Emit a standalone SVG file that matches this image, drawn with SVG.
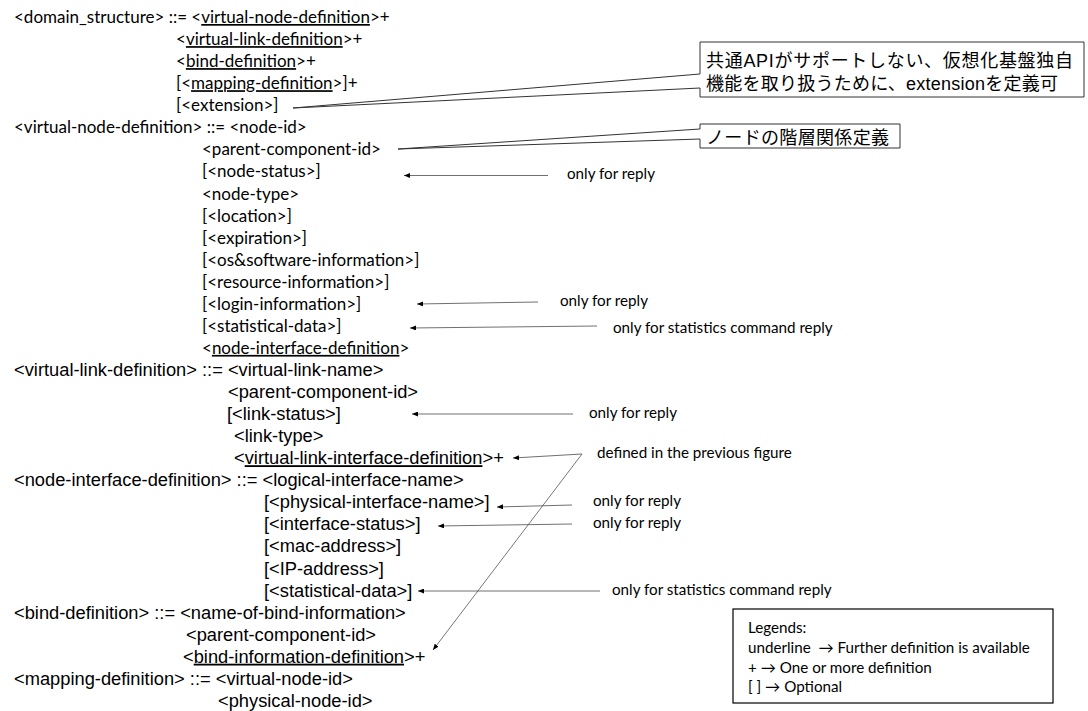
<svg xmlns="http://www.w3.org/2000/svg" width="1088" height="711" viewBox="0 0 1088 711">
  <style>
    .c { font-family: Lato, "Open Sans", sans-serif; font-size: 17px; fill: #000; }
    .a { font-family: "Liberation Sans", Arial, sans-serif; font-size: 18.3px; fill: #000; }
    .lbl { font-family: Lato, "Open Sans", sans-serif; font-size: 15.2px; fill: #000; }
    .jp { font-family: "Liberation Sans", "Noto Sans CJK JP", sans-serif; font-size: 18px; fill: #000; }
    .u { text-decoration: underline; }
    .arr { stroke: #707070; stroke-width: 1; fill: none; marker-end: url(#head); }
    .diag { stroke: #555; stroke-width: 0.8; fill: none; marker-end: url(#head); }
    .callout { fill: #fff; stroke: #333; stroke-width: 1; }
    .legend { fill: #fff; stroke: #000; stroke-width: 1.2; }
  </style>
  <defs>
    <marker id="head" viewBox="0 0 6 5" refX="6" refY="2.5" markerWidth="6" markerHeight="5" markerUnits="userSpaceOnUse" orient="auto">
      <path d="M0,0 L6,2.5 L0,5 Z" fill="#000"/>
    </marker>
  </defs>
  <rect width="1088" height="711" fill="#fff"/>

  <!-- domain structure -->
  <g id="domain-structure">
    <text class="c" x="14" y="23">&lt;domain_structure&gt; ::= &lt;<tspan class="u">virtual-node-definition</tspan>&gt;+</text>
    <text class="c" x="176" y="45.1">&lt;<tspan class="u">virtual-link-definition</tspan>&gt;+</text>
    <text class="c" x="176" y="67.1">&lt;<tspan class="u">bind-definition</tspan>&gt;+</text>
    <text class="c" x="176" y="89.2">[&lt;<tspan class="u">mapping-definition</tspan>&gt;]+</text>
    <text class="c" x="176" y="111.2">[&lt;extension&gt;]</text>
  </g>

  <!-- virtual node definition -->
  <g id="virtual-node-definition">
    <text class="c" x="14" y="133.3">&lt;virtual-node-definition&gt; ::= &lt;node-id&gt;</text>
    <text class="c" x="202" y="155.4">&lt;parent-component-id&gt;</text>
    <text class="c" x="202" y="177.4">[&lt;node-status&gt;]</text>
    <text class="c" x="202" y="199.5">&lt;node-type&gt;</text>
    <text class="c" x="202" y="221.5">[&lt;location&gt;]</text>
    <text class="c" x="202" y="243.6">[&lt;expiration&gt;]</text>
    <text class="c" x="202" y="265.7">[&lt;os&amp;software-information&gt;]</text>
    <text class="c" x="202" y="287.7">[&lt;resource-information&gt;]</text>
    <text class="c" x="202" y="309.8">[&lt;login-information&gt;]</text>
    <text class="c" x="202" y="331.8">[&lt;statistical-data&gt;]</text>
    <text class="c" x="202" y="353.9">&lt;<tspan class="u">node-interface-definition</tspan>&gt;</text>
  </g>

  <!-- virtual link definition -->
  <g id="virtual-link-definition">
    <text class="a" x="14" y="376">&lt;virtual-link-definition&gt; ::= &lt;virtual-link-name&gt;</text>
    <text class="a" x="228" y="398">&lt;parent-component-id&gt;</text>
    <text class="a" x="227" y="420.1">[&lt;link-status&gt;]</text>
    <text class="a" x="234" y="442.1">&lt;link-type&gt;</text>
    <text class="a" x="234" y="464.2">&lt;<tspan class="u">virtual-link-interface-definition</tspan>&gt;+</text>
  </g>

  <!-- node interface definition -->
  <g id="node-interface-definition">
    <text class="a" x="14" y="486.3">&lt;node-interface-definition&gt; ::= &lt;logical-interface-name&gt;</text>
    <text class="a" x="264" y="508.3">[&lt;physical-interface-name&gt;]</text>
    <text class="a" x="264" y="530.4">[&lt;interface-status&gt;]</text>
    <text class="a" x="264" y="552.4">[&lt;mac-address&gt;]</text>
    <text class="a" x="264" y="574.5">[&lt;IP-address&gt;]</text>
    <text class="a" x="264" y="596.6">[&lt;statistical-data&gt;]</text>
  </g>

  <!-- bind definition -->
  <g id="bind-definition">
    <text class="a" x="14" y="618.6">&lt;bind-definition&gt; ::= &lt;name-of-bind-information&gt;</text>
    <text class="a" x="186" y="640.7">&lt;parent-component-id&gt;</text>
    <text class="a" x="183" y="662.7">&lt;<tspan class="u">bind-information-definition</tspan>&gt;+</text>
  </g>

  <!-- mapping definition -->
  <g id="mapping-definition">
    <text class="a" x="14" y="684.8">&lt;mapping-definition&gt; ::= &lt;virtual-node-id&gt;</text>
    <text class="a" x="218" y="706.9">&lt;physical-node-id&gt;</text>
  </g>

  <!-- callout: extension -->
  <g id="callout-extension">
    <path class="callout" d="M700,42 H1084 V97 H700 V88 L293,108 L700,74 Z"/>
    <text class="jp" x="706" y="67" textLength="367">共通APIがサポートしない、仮想化基盤独自</text>
    <text class="jp" x="706" y="89.5" textLength="352">機能を取り扱うために、extensionを定義可</text>
  </g>

  <!-- callout: node hierarchy -->
  <g id="callout-hierarchy">
    <path class="callout" d="M700,124 H900 V148 H700 V139 L398,149 L700,129 Z"/>
    <text class="jp" x="706" y="143.5" textLength="183">ノードの階層関係定義</text>
  </g>

  <!-- notes -->
  <g id="notes">
    <text class="lbl" x="567" y="179">only for reply</text>
    <text class="lbl" x="560" y="306">only for reply</text>
    <text class="lbl" x="613" y="333">only for statistics command reply</text>
    <text class="lbl" x="589" y="418">only for reply</text>
    <text class="lbl" x="597" y="458">defined in the previous figure</text>
    <text class="lbl" x="593" y="506">only for reply</text>
    <text class="lbl" x="593" y="528">only for reply</text>
    <text class="lbl" x="612" y="595">only for statistics command reply</text>
  </g>

  <!-- connectors -->
  <g id="connectors">
    <line class="arr" x1="548" y1="175.5" x2="404" y2="175.5"/>
    <line class="arr" x1="538" y1="302" x2="417" y2="304"/>
    <line class="arr" x1="597" y1="326" x2="410" y2="328"/>
    <line class="arr" x1="573" y1="414" x2="412" y2="414"/>
    <line class="arr" x1="582" y1="454" x2="513" y2="458"/>
    <line class="arr" x1="572" y1="505" x2="497" y2="507"/>
    <line class="arr" x1="572" y1="524" x2="438" y2="526"/>
    <line class="arr" x1="600" y1="591" x2="418" y2="591"/>
    <line class="diag" x1="582" y1="454" x2="433" y2="650"/>
  </g>

  <!-- legend -->
  <g id="legend">
    <rect class="legend" x="733" y="609" width="320" height="94"/>
    <text class="lbl" x="748" y="633">Legends:</text>
    <text class="lbl" x="748" y="653" xml:space="preserve">underline  → Further definition is available</text>
    <text class="lbl" x="748" y="672.5">+ → One or more definition</text>
    <text class="lbl" x="748" y="692">[ ] → Optional</text>
  </g>
</svg>
